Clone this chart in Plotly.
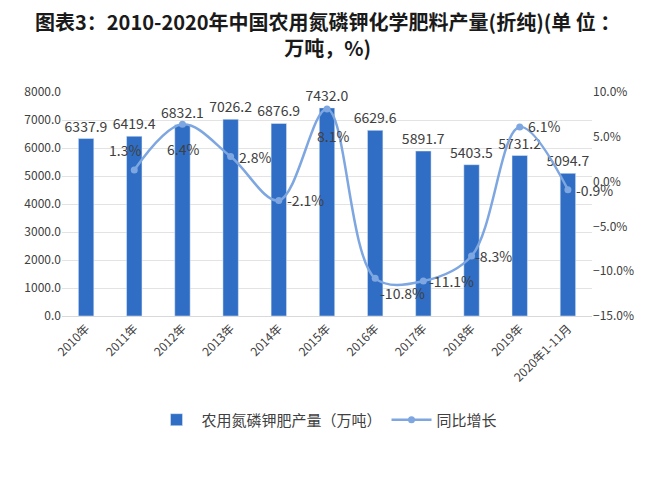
import plotly.graph_objects as go

categories = ["2010年", "2011年", "2012年", "2013年", "2014年", "2015年",
              "2016年", "2017年", "2018年", "2019年", "2020年1-11月"]
output = [6337.9, 6419.4, 6832.1, 7026.2, 6876.9, 7432.0,
          6629.6, 5891.7, 5403.5, 5731.2, 5094.7]
growth_cats = categories[1:]
growth = [1.3, 6.4, 2.8, -2.1, 8.1, -10.8, -11.1, -8.3, 6.1, -0.9]
# label offsets (px) relative to each point, as in the reference
label_dx = [-9, 1, 24, 27, 6, 27, 28, 22, 24, 27]
label_dy = [20, -25, 0, 0, -27, -15, 0, 0, 1, 0]

FONT = "Noto Sans CJK SC"
bar_color = "#2F6EC4"
line_color = "#7EA6E0"
txt = "#404040"

fig = go.Figure()
fig.add_trace(go.Bar(
    x=categories, y=output, name="农用氮磷钾肥产量（万吨）",
    marker_color=bar_color, text=[f"{v:.1f}" for v in output],
    textposition="outside", constraintext="none",
    textfont=dict(size=14, color=txt, family=FONT),
    cliponaxis=False,
))
fig.add_trace(go.Scatter(
    x=growth_cats, y=growth, name="同比增长", yaxis="y2",
    mode="lines+markers", line=dict(color=line_color, width=2.5, shape="spline"),
    marker=dict(size=7, color=line_color), cliponaxis=False,
))

for c, v, dx, dy in zip(growth_cats, growth, label_dx, label_dy):
    fig.add_annotation(
        x=c, y=v, xref="x", yref="y2", text=f"{v:.1f}%", showarrow=False,
        xshift=dx, yshift=dy, xanchor="center", yanchor="middle",
        font=dict(size=14, color=txt, family=FONT),
    )

fig.add_annotation(
    text="<b>图表3：2010-2020年中国农用氮磷钾化学肥料产量(折纯)(单 位 ：<br>万吨，%)</b>",
    xref="paper", yref="paper", x=0.5, y=(316 - 34) / 224, xanchor="center", yanchor="middle",
    showarrow=False, font=dict(size=20, color="#1a1a1a", family=FONT),
)

fig.update_layout(
    width=642, height=478,
    margin=dict(l=54, r=58, t=84, b=170, autoexpand=False),
    paper_bgcolor="white", plot_bgcolor="white",
    font=dict(family=FONT, color=txt),
    bargap=0.68,
    xaxis=dict(tickangle=-45, tickfont=dict(size=12, color=txt), showgrid=False,
               range=[-0.5, len(categories) - 0.5], autorange=False,
               showline=True, linecolor="#D9D9D9", ticks="", automargin=False),
    yaxis=dict(range=[0, 8000], dtick=1000, tickformat=".1f", automargin=False,
               tickfont=dict(size=12, color=txt), gridcolor="#E3E3E3", zeroline=False),
    yaxis2=dict(range=[-15, 10], autorange=False, dtick=5, tickformat=".1f", ticksuffix="%",
                overlaying="y", side="right", showgrid=False, zeroline=False,
                automargin=False, tickfont=dict(size=12, color=txt)),
    legend=dict(orientation="h", x=0.5, xanchor="center", y=-0.464, yanchor="middle",
                font=dict(size=15, color=txt), itemwidth=40),
    showlegend=True,
)

fig.write_html("out.html")
